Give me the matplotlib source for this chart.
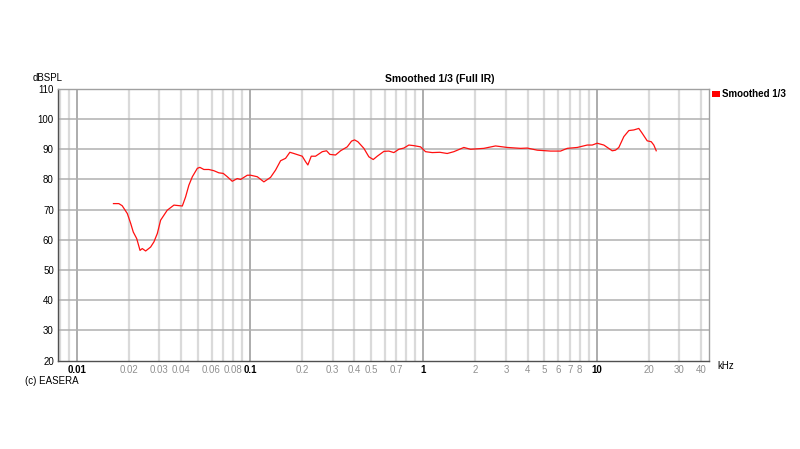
import numpy as np
import matplotlib
matplotlib.use("Agg")
import matplotlib.pyplot as plt
from matplotlib.patches import Rectangle

plt.rcParams["font.family"] = ["Liberation Sans", "DejaVu Sans"]

# smoothed 1/3 octave response (kHz, dBSPL)
freq_khz = [0.0163, 0.0175, 0.0183, 0.0196, 0.0205, 0.0212, 0.0222, 0.0232, 0.0239, 0.0250,
            0.0267, 0.0279, 0.0292, 0.0305, 0.0333, 0.0364, 0.0407, 0.0425, 0.0444, 0.0465,
            0.0497, 0.0514, 0.0542, 0.0579, 0.0619, 0.0661, 0.0701, 0.0740, 0.0790, 0.0845,
            0.0883, 0.0965, 0.1008, 0.1102, 0.1203, 0.1315, 0.1405, 0.1502, 0.1605, 0.1699,
            0.1792, 0.2003, 0.2093, 0.2158, 0.2258, 0.2390, 0.2614, 0.2767, 0.2891, 0.3118,
            0.3333, 0.3642, 0.3857, 0.4014, 0.4194, 0.4544, 0.4855, 0.5145, 0.5427, 0.5926,
            0.6332, 0.6765, 0.7232, 0.7729, 0.8258, 0.8828, 0.9647, 1.031, 1.127, 1.247,
            1.375, 1.502, 1.715, 1.875, 2.237, 2.614, 3.052, 3.643, 3.983, 4.548,
            5.428, 6.199, 6.776, 7.739, 8.839, 9.445, 10.09, 11.02, 12.32, 12.87,
            13.45, 14.38, 15.37, 16.41, 17.54, 18.35, 19.61, 20.69, 21.41, 22.11]
level_db = [72.0, 72.0, 71.3, 68.7, 65.4, 62.6, 60.4, 56.5, 57.1, 56.3,
            57.6, 59.3, 62.1, 66.5, 69.8, 71.5, 71.2, 74.2, 78.1, 80.9,
            83.7, 84.0, 83.3, 83.3, 82.9, 82.2, 82.0, 80.9, 79.4, 80.3,
            80.0, 81.4, 81.4, 80.9, 79.2, 80.7, 83.1, 86.2, 87.0, 89.0,
            88.6, 87.7, 85.9, 84.8, 87.7, 87.7, 89.2, 89.5, 88.3, 88.1,
            89.5, 90.8, 92.7, 93.1, 92.5, 90.3, 87.5, 86.6, 87.7, 89.3,
            89.4, 88.9, 90.0, 90.4, 91.4, 91.2, 90.8, 89.2, 88.9, 89.0,
            88.6, 89.2, 90.6, 90.0, 90.3, 91.1, 90.6, 90.3, 90.4, 89.7,
            89.4, 89.4, 90.3, 90.6, 91.4, 91.4, 92.0, 91.4, 89.5, 89.7,
            90.6, 94.2, 96.2, 96.4, 96.9, 95.3, 92.8, 92.5, 91.4, 89.5]

tick_vals = [0.01, 0.02, 0.03, 0.04, 0.06, 0.08, 0.1, 0.2, 0.3, 0.4, 0.5, 0.7,
             1, 2, 3, 4, 5, 6, 7, 8, 10, 20, 30, 40]
tick_text = ["0.01", "0.02", "0.03", "0.04", "0.06", "0.08", "0.1", "0.2", "0.3", "0.4",
             "0.5", "0.7", "1", "2", "3", "4", "5", "6", "7", "8", "10", "20", "30", "40"]
decades = [0.01, 0.1, 1, 10]
y_ticks = [20, 30, 40, 50, 60, 70, 80, 90, 100, 110]

fig = plt.figure(figsize=(8, 4.49), dpi=100)
ax = fig.add_axes([0.0725, 0.197, 0.814, 0.605])
ax.set_xscale("log")
ax.set_xlim(0.0078, 44.7)
ax.set_ylim(20, 110)

# grid: light minor lines, darker decade lines
minors = [m * d for d in [0.001, 0.01, 0.1, 1, 10] for m in range(2, 10)]
for f in minors:
    if 0.0078 < f < 44.7:
        ax.axvline(f, color="#dadada", lw=1.6, zorder=0)
for f in decades:
    ax.axvline(f, color="#a6a6a6", lw=1.3, zorder=1)
for y in y_ticks[1:-1]:
    ax.axhline(y, color="#b0b0b0", lw=1.1, zorder=1)

ax.plot(freq_khz, level_db, color="#ff1010", lw=0.9, zorder=3)

ax.set_xticks(tick_vals)
ax.set_xticklabels(tick_text)
ax.xaxis.set_minor_locator(matplotlib.ticker.NullLocator())
for lab, v in zip(ax.get_xticklabels(), tick_vals):
    lab.set_fontsize(7)
    if v in decades:
        lab.set_color("black"); lab.set_fontweight("bold")
    else:
        lab.set_color("#909090")
ax.set_yticks(y_ticks)
ax.tick_params(axis="both", length=0, labelsize=7)
ax.tick_params(axis="x", pad=3)
ax.tick_params(axis="y", pad=3)

for s in ("top", "right"):
    ax.spines[s].set_color("#a0a0a0")
for s in ("left", "bottom"):
    ax.spines[s].set_color("#505050")
for s in ax.spines.values():
    s.set_linewidth(1.0)

fig.text(0.55, 0.812, "Smoothed 1/3 (Full IR)", ha="center", va="bottom",
         fontsize=7.5, fontweight="bold")
fig.text(0.041, 0.815, "dBSPL", ha="left", va="bottom", fontsize=7)
fig.text(0.897, 0.185, "kHz", ha="left", va="center", fontsize=7)
fig.text(0.031, 0.152, "(c) EASERA", ha="left", va="center", fontsize=7)
fig.patches.append(Rectangle((0.890, 0.783), 0.010, 0.014, transform=fig.transFigure,
                             facecolor="#ff0000", edgecolor="none"))
fig.text(0.903, 0.790, "Smoothed 1/3", ha="left", va="center", fontsize=7, fontweight="bold")

fig.savefig("out.png", dpi=100)
